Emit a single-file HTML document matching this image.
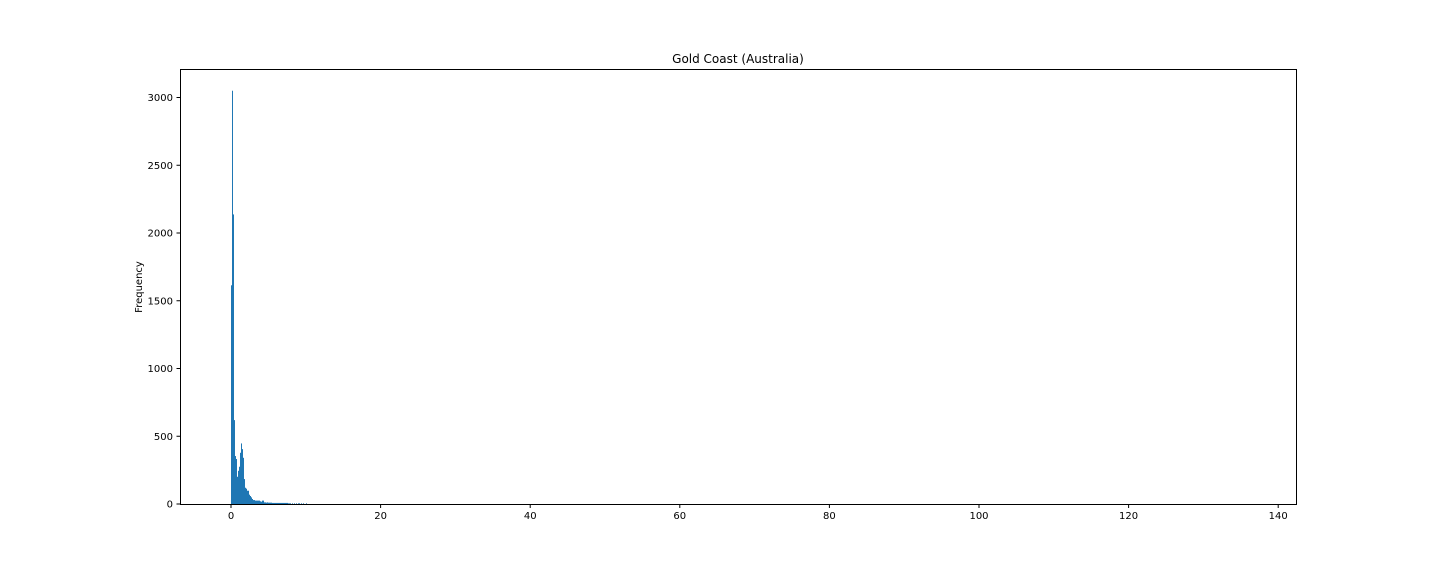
<!DOCTYPE html>
<html><head><meta charset="utf-8"><style>
body{margin:0;background:#fff;}
svg{display:block;font-family:"DejaVu Sans","Liberation Sans",sans-serif;}
</style></head><body>
<svg id="chart" width="1440" height="576">
<text x="738" y="63" font-size="12" text-anchor="middle">Gold Coast (Australia)</text>
<text transform="translate(142,287) rotate(-90)" font-size="10" text-anchor="middle">Frequency</text>
<g id="bars"></g>
<g id="axes"></g>
<rect x="180.5" y="69.5" width="1116" height="435" fill="none" stroke="#000" stroke-width="1"/>
</svg>
<script>
const binStart = 0;
const binWidth = 0.1337;
const counts = [1614,3050,2137,619,354,332,201,245,275,378,447,405,341,184,120,113,98,98,69,59,49,37,29,29,25,25,25,25,25,20,17,25,25,12,12,10,12,10,10,10,10,8,8,8,8,8,8,8,8,8,8,8,8,8,8,8,8,5,5,5,0,5,0,5,0,5,0,5,5,0,5,0,5,0,0,5];
const xTicks = [0,20,40,60,80,100,120,140];
const yTicks = [0,500,1000,1500,2000,2500,3000];
const NS="http://www.w3.org/2000/svg";
const X0=231, XS=7.48, Y0=504, YS=67.75/500;
function sx(v){return X0+v*XS;}
function sy(v){return Y0-v*YS;}
const bars=document.getElementById('bars');
counts.forEach((c,i)=>{
  if(c<=0) return;
  const r=document.createElementNS(NS,'rect');
  const x1=sx(binStart+i*binWidth), x2=sx(binStart+(i+1)*binWidth);
  r.setAttribute('x',x1);r.setAttribute('width',x2-x1);
  r.setAttribute('y',sy(c));r.setAttribute('height',Y0-sy(c));
  r.setAttribute('fill','#1f77b4');
  
  
  bars.appendChild(r);
});
const axes=document.getElementById('axes');
xTicks.forEach(t=>{
  const x=sx(t);
  const l=document.createElementNS(NS,'line');
  l.setAttribute('x1',x);l.setAttribute('x2',x);l.setAttribute('y1',504.5);l.setAttribute('y2',508);l.setAttribute('stroke','#000');
  
  
  axes.appendChild(l);
  const tx=document.createElementNS(NS,'text');
  tx.setAttribute('x',x);tx.setAttribute('y',519);tx.setAttribute('font-size','10');tx.setAttribute('text-anchor','middle');
  tx.textContent=t;
  
  
  axes.appendChild(tx);
});
yTicks.forEach(t=>{
  const y=sy(t);
  const l=document.createElementNS(NS,'line');
  l.setAttribute('x1',176.5);l.setAttribute('x2',180.5);l.setAttribute('y1',y);l.setAttribute('y2',y);l.setAttribute('stroke','#000');
  
  
  axes.appendChild(l);
  const tx=document.createElementNS(NS,'text');
  tx.setAttribute('x',173);tx.setAttribute('y',y+3.5);tx.setAttribute('font-size','10');tx.setAttribute('text-anchor','end');
  tx.textContent=t;
  
  
  axes.appendChild(tx);
});
</script>
</body></html>
